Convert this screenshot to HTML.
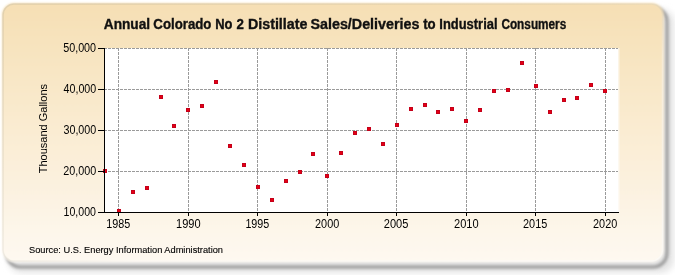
<!DOCTYPE html>
<html><head><meta charset="utf-8"><style>
html,body{margin:0;padding:0;width:675px;height:275px;overflow:hidden;background:#fff;}
svg{display:block;will-change:transform;}
text{font-family:"Liberation Sans",sans-serif;}
</style></head><body>
<svg width="675" height="275" viewBox="0 0 675 275">
<defs>
<linearGradient id="bg" x1="0" y1="0" x2="0" y2="1">
<stop offset="0" stop-color="#f6dfb4"/>
<stop offset="1" stop-color="#fef9f1"/>
</linearGradient>
<linearGradient id="em" x1="0" y1="0" x2="1" y2="1">
<stop offset="0" stop-color="#8a8060" stop-opacity="0.2"/>
<stop offset="0.4" stop-color="#8a8060" stop-opacity="0.12"/>
<stop offset="0.6" stop-color="#ffffff" stop-opacity="0.25"/>
<stop offset="1" stop-color="#ffffff" stop-opacity="0.45"/>
</linearGradient>
<filter id="sh" x="-5%" y="-5%" width="110%" height="110%"><feGaussianBlur stdDeviation="1.6"/></filter>
<filter id="sh2" x="-5%" y="-5%" width="110%" height="110%"><feGaussianBlur stdDeviation="3"/></filter>
<filter id="pb" x="-5%" y="-5%" width="110%" height="110%"><feGaussianBlur stdDeviation="1.0"/></filter>
</defs>
<rect x="0" y="0" width="675" height="275" fill="#fff"/>
<rect x="8" y="9" width="666" height="264" rx="14" ry="14" fill="#e4e4e4" filter="url(#sh2)"/>
<rect x="6.5" y="7.5" width="660.5" height="259.5" rx="14" ry="14" fill="none" stroke="#969696" stroke-width="3" filter="url(#sh)"/>
<rect x="2" y="3" width="661.5" height="259" rx="12" ry="12" fill="url(#bg)" filter="url(#pb)"/>
<rect x="3" y="4" width="659.5" height="257" rx="11" ry="11" fill="none" stroke="url(#em)" stroke-width="1.5"/>

<rect x="104" y="48" width="514" height="164" fill="#fff"/>
<rect x="618" y="48" width="1" height="164" fill="#fff" fill-opacity="0.6"/>
<rect x="619" y="48" width="1" height="164" fill="#fff" fill-opacity="0.3"/>
<g stroke="#9a9a9a" stroke-width="1" stroke-dasharray="3,1" shape-rendering="crispEdges"><line x1="104" y1="48.5" x2="618" y2="48.5"/><line x1="104" y1="89.5" x2="618" y2="89.5"/><line x1="104" y1="130.5" x2="618" y2="130.5"/><line x1="104" y1="171.5" x2="618" y2="171.5"/><line x1="104" y1="212.5" x2="618" y2="212.5"/><line x1="118.5" y1="48" x2="118.5" y2="212"/><line x1="188.5" y1="48" x2="188.5" y2="212"/><line x1="257.5" y1="48" x2="257.5" y2="212"/><line x1="327.5" y1="48" x2="327.5" y2="212"/><line x1="396.5" y1="48" x2="396.5" y2="212"/><line x1="466.5" y1="48" x2="466.5" y2="212"/><line x1="535.5" y1="48" x2="535.5" y2="212"/><line x1="605.5" y1="48" x2="605.5" y2="212"/></g>
<g fill="#c4001a" shape-rendering="crispEdges"><rect x="103" y="169" width="4" height="4"/><rect x="117" y="209" width="4" height="4"/><rect x="131" y="190" width="4" height="4"/><rect x="145" y="186" width="4" height="4"/><rect x="159" y="95" width="4" height="4"/><rect x="172" y="124" width="4" height="4"/><rect x="186" y="108" width="4" height="4"/><rect x="200" y="104" width="4" height="4"/><rect x="214" y="80" width="4" height="4"/><rect x="228" y="144" width="4" height="4"/><rect x="242" y="163" width="4" height="4"/><rect x="256" y="185" width="4" height="4"/><rect x="270" y="198" width="4" height="4"/><rect x="284" y="179" width="4" height="4"/><rect x="298" y="170" width="4" height="4"/><rect x="311" y="152" width="4" height="4"/><rect x="325" y="174" width="4" height="4"/><rect x="339" y="151" width="4" height="4"/><rect x="353" y="131" width="4" height="4"/><rect x="367" y="127" width="4" height="4"/><rect x="381" y="142" width="4" height="4"/><rect x="395" y="123" width="4" height="4"/><rect x="409" y="107" width="4" height="4"/><rect x="423" y="103" width="4" height="4"/><rect x="436" y="110" width="4" height="4"/><rect x="450" y="107" width="4" height="4"/><rect x="464" y="119" width="4" height="4"/><rect x="478" y="108" width="4" height="4"/><rect x="492" y="89" width="4" height="4"/><rect x="506" y="88" width="4" height="4"/><rect x="520" y="61" width="4" height="4"/><rect x="534" y="84" width="4" height="4"/><rect x="548" y="110" width="4" height="4"/><rect x="562" y="98" width="4" height="4"/><rect x="575" y="96" width="4" height="4"/><rect x="589" y="83" width="4" height="4"/><rect x="603" y="89" width="4" height="4"/></g>
<g fill="#e60012" shape-rendering="crispEdges"><rect x="104" y="170" width="2" height="2"/><rect x="118" y="210" width="2" height="2"/><rect x="132" y="191" width="2" height="2"/><rect x="146" y="187" width="2" height="2"/><rect x="160" y="96" width="2" height="2"/><rect x="173" y="125" width="2" height="2"/><rect x="187" y="109" width="2" height="2"/><rect x="201" y="105" width="2" height="2"/><rect x="215" y="81" width="2" height="2"/><rect x="229" y="145" width="2" height="2"/><rect x="243" y="164" width="2" height="2"/><rect x="257" y="186" width="2" height="2"/><rect x="271" y="199" width="2" height="2"/><rect x="285" y="180" width="2" height="2"/><rect x="299" y="171" width="2" height="2"/><rect x="312" y="153" width="2" height="2"/><rect x="326" y="175" width="2" height="2"/><rect x="340" y="152" width="2" height="2"/><rect x="354" y="132" width="2" height="2"/><rect x="368" y="128" width="2" height="2"/><rect x="382" y="143" width="2" height="2"/><rect x="396" y="124" width="2" height="2"/><rect x="410" y="108" width="2" height="2"/><rect x="424" y="104" width="2" height="2"/><rect x="437" y="111" width="2" height="2"/><rect x="451" y="108" width="2" height="2"/><rect x="465" y="120" width="2" height="2"/><rect x="479" y="109" width="2" height="2"/><rect x="493" y="90" width="2" height="2"/><rect x="507" y="89" width="2" height="2"/><rect x="521" y="62" width="2" height="2"/><rect x="535" y="85" width="2" height="2"/><rect x="549" y="111" width="2" height="2"/><rect x="563" y="99" width="2" height="2"/><rect x="576" y="97" width="2" height="2"/><rect x="590" y="84" width="2" height="2"/><rect x="604" y="90" width="2" height="2"/></g>
<g stroke="#000" stroke-width="1" shape-rendering="crispEdges">
<line x1="104.5" y1="48" x2="104.5" y2="213"/>
<line x1="98" y1="212.5" x2="619" y2="212.5"/>
<line x1="98" y1="48.5" x2="104" y2="48.5"/>
<line x1="98" y1="89.5" x2="104" y2="89.5"/>
<line x1="98" y1="130.5" x2="104" y2="130.5"/>
<line x1="98" y1="171.5" x2="104" y2="171.5"/>
<line x1="98" y1="212.5" x2="104" y2="212.5"/>
<line x1="118.5" y1="212" x2="118.5" y2="216"/>
<line x1="188.5" y1="212" x2="188.5" y2="216"/>
<line x1="257.5" y1="212" x2="257.5" y2="216"/>
<line x1="327.5" y1="212" x2="327.5" y2="216"/>
<line x1="396.5" y1="212" x2="396.5" y2="216"/>
<line x1="466.5" y1="212" x2="466.5" y2="216"/>
<line x1="535.5" y1="212" x2="535.5" y2="216"/>
<line x1="605.5" y1="212" x2="605.5" y2="216"/>
</g>
<text x="63.17" y="51.6" font-size="12" textLength="32.95" lengthAdjust="spacingAndGlyphs" fill="#000">50,000</text>
<text x="63.55" y="92.6" font-size="12" textLength="32.66" lengthAdjust="spacingAndGlyphs" fill="#000">40,000</text>
<text x="63.44" y="133.6" font-size="12" textLength="32.83" lengthAdjust="spacingAndGlyphs" fill="#000">30,000</text>
<text x="63.26" y="174.6" font-size="12" textLength="32.96" lengthAdjust="spacingAndGlyphs" fill="#000">20,000</text>
<text x="63.59" y="215.6" font-size="12" textLength="32.42" lengthAdjust="spacingAndGlyphs" fill="#000">10,000</text>
<text x="106.28" y="228" font-size="12" textLength="23.97" lengthAdjust="spacingAndGlyphs" fill="#000">1985</text>
<text x="176.06" y="228" font-size="12" textLength="24.57" lengthAdjust="spacingAndGlyphs" fill="#000">1990</text>
<text x="245.38" y="228" font-size="12" textLength="23.87" lengthAdjust="spacingAndGlyphs" fill="#000">1995</text>
<text x="315.05" y="228" font-size="12" textLength="24.17" lengthAdjust="spacingAndGlyphs" fill="#000">2000</text>
<text x="383.74" y="228" font-size="12" textLength="24.62" lengthAdjust="spacingAndGlyphs" fill="#000">2005</text>
<text x="454.04" y="228" font-size="12" textLength="24.59" lengthAdjust="spacingAndGlyphs" fill="#000">2010</text>
<text x="523.05" y="228" font-size="12" textLength="24.20" lengthAdjust="spacingAndGlyphs" fill="#000">2015</text>
<text x="593.05" y="228" font-size="12" textLength="24.17" lengthAdjust="spacingAndGlyphs" fill="#000">2020</text>
<text x="0" y="0" font-size="11" text-anchor="middle" fill="#000" transform="translate(47,128.6) rotate(-90)">Thousand Gallons</text>
<g font-size="14" font-weight="bold" fill="#111" stroke="#111" stroke-width="0.35"><text x="103.76" y="29" textLength="46.41" lengthAdjust="spacingAndGlyphs">Annual</text><text x="153.36" y="29" textLength="58.06" lengthAdjust="spacingAndGlyphs">Colorado</text><text x="215.23" y="29" textLength="17.27" lengthAdjust="spacingAndGlyphs">No</text><text x="236.44" y="29" textLength="7.39" lengthAdjust="spacingAndGlyphs">2</text><text x="247.95" y="29" textLength="59.44" lengthAdjust="spacingAndGlyphs">Distillate</text><text x="310.49" y="29" textLength="108.90" lengthAdjust="spacingAndGlyphs">Sales/Deliveries</text><text x="423.14" y="29" textLength="12.48" lengthAdjust="spacingAndGlyphs">to</text><text x="439.34" y="29" textLength="58.18" lengthAdjust="spacingAndGlyphs">Industrial</text><text x="501.42" y="29" textLength="64.87" lengthAdjust="spacingAndGlyphs">Consumers</text></g>
<text x="29" y="253.4" font-size="9.6" textLength="194" lengthAdjust="spacingAndGlyphs" fill="#000" stroke="#000" stroke-width="0.12">Source: U.S. Energy Information Administration</text>
</svg></body></html>
